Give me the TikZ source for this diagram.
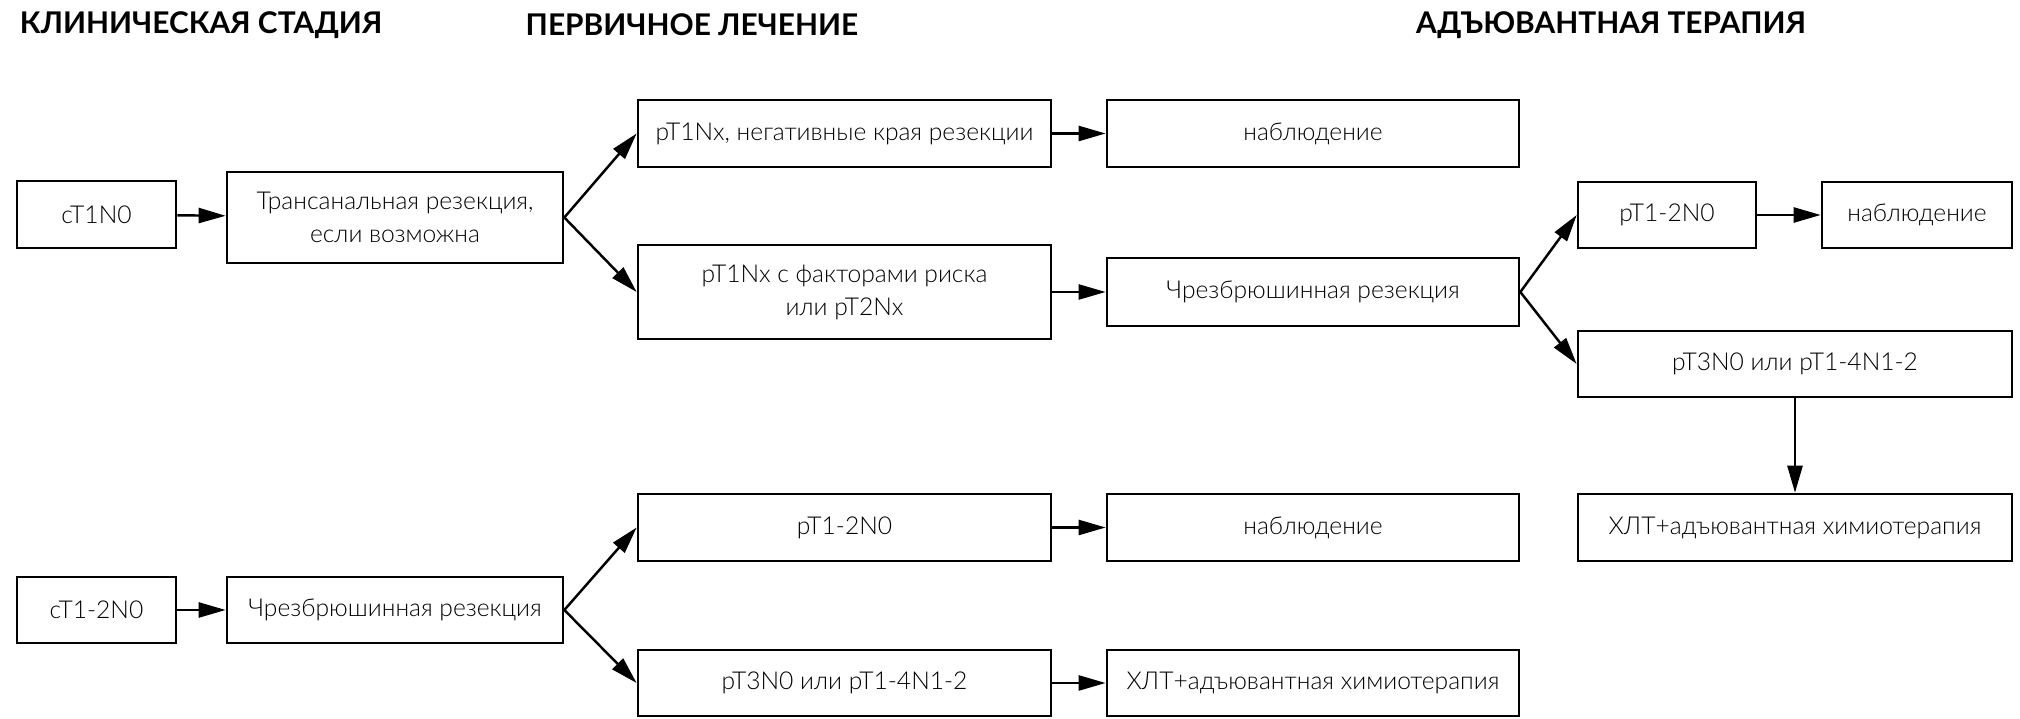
\documentclass[tikz,border=0pt]{standalone}
\usepackage{fontspec}
\setmainfont{Lato}[UprightFont=* Light, BoldFont=* Bold]
\usetikzlibrary{arrows.meta}
\tikzset{
  cell/.style={draw, line width=0.7pt, align=center, inner sep=0pt, font=\fontsize{7}{9.4}\selectfont},
  head/.style={font=\fontsize{8.5}{10}\selectfont\bfseries},
  flow/.style={-{Triangle[length=0.27cm, width=0.15cm]}, line width=0.7pt}
}
\begin{document}
\begin{tikzpicture}[x=0.01cm, y=-0.01cm]
  \useasboundingbox (0,0) rectangle (2020,719);
  \node [head] (hstage) at (201,25) {КЛИНИЧЕСКАЯ СТАДИЯ};
  \node [head] (hfirst) at (692,25) {ПЕРВИЧНОЕ ЛЕЧЕНИЕ};
  \node [head] (hadj) at (1611,25) {АДЪЮВАНТНАЯ ТЕРАПИЯ};

  \node [cell, minimum width=1.59cm, minimum height=0.67cm] (ct1) at (96.5,214.5) {cT1N0};
  \node [cell, minimum width=3.36cm, minimum height=0.91cm] (trans) at (395,217.5) {Трансанальная резекция,\\если возможна};
  \node [cell, minimum width=4.13cm, minimum height=0.67cm] (neg) at (844.5,133.5) {pT1Nx, негативные края резекции};
  \node [cell, minimum width=4.13cm, minimum height=0.94cm] (risk) at (844.5,292) {pT1Nx с факторами риска\\или pT2Nx};
  \node [cell, minimum width=4.12cm, minimum height=0.67cm] (obs1) at (1313,133.5) {наблюдение};
  \node [cell, minimum width=4.12cm, minimum height=0.68cm] (tme1) at (1313,292) {Чрезбрюшинная резекция};
  \node [cell, minimum width=1.78cm, minimum height=0.66cm] (r12) at (1667,215) {pT1-2N0};
  \node [cell, minimum width=1.90cm, minimum height=0.66cm] (obs2) at (1917,215) {наблюдение};
  \node [cell, minimum width=4.34cm, minimum height=0.66cm] (r34) at (1795,364) {pT3N0 или pT1-4N1-2};
  \node [cell, minimum width=4.34cm, minimum height=0.67cm] (chem1) at (1795,527.5) {ХЛТ+адъювантная химиотерапия};

  \node [cell, minimum width=1.59cm, minimum height=0.66cm] (ct2) at (96.5,610) {cT1-2N0};
  \node [cell, minimum width=3.36cm, minimum height=0.66cm] (tme2) at (395,610) {Чрезбрюшинная резекция};
  \node [cell, minimum width=4.13cm, minimum height=0.67cm] (b12) at (844.5,527.5) {pT1-2N0};
  \node [cell, minimum width=4.12cm, minimum height=0.67cm] (obs3) at (1313,527.5) {наблюдение};
  \node [cell, minimum width=4.13cm, minimum height=0.66cm] (b34) at (844.5,683) {pT3N0 или pT1-4N1-2};
  \node [cell, minimum width=4.12cm, minimum height=0.66cm] (chem2) at (1313,683) {ХЛТ+адъювантная химиотерапия};

  \draw [flow] (ct1) -- (trans);
  \draw [flow] (trans.east) -- (neg.west);
  \draw [flow] (trans.east) -- (risk.west);
  \draw [flow] (neg) -- (obs1);
  \draw [flow] (risk) -- (tme1);
  \draw [flow] (tme1.east) -- (r12.west);
  \draw [flow] (tme1.east) -- (r34.west);
  \draw [flow] (r12) -- (obs2);
  \draw [flow] (r34) -- (chem1);

  \draw [flow] (ct2) -- (tme2);
  \draw [flow] (tme2.east) -- (b12.west);
  \draw [flow] (tme2.east) -- (b34.west);
  \draw [flow] (b12) -- (obs3);
  \draw [flow] (b34) -- (chem2);
\end{tikzpicture}
\end{document}
